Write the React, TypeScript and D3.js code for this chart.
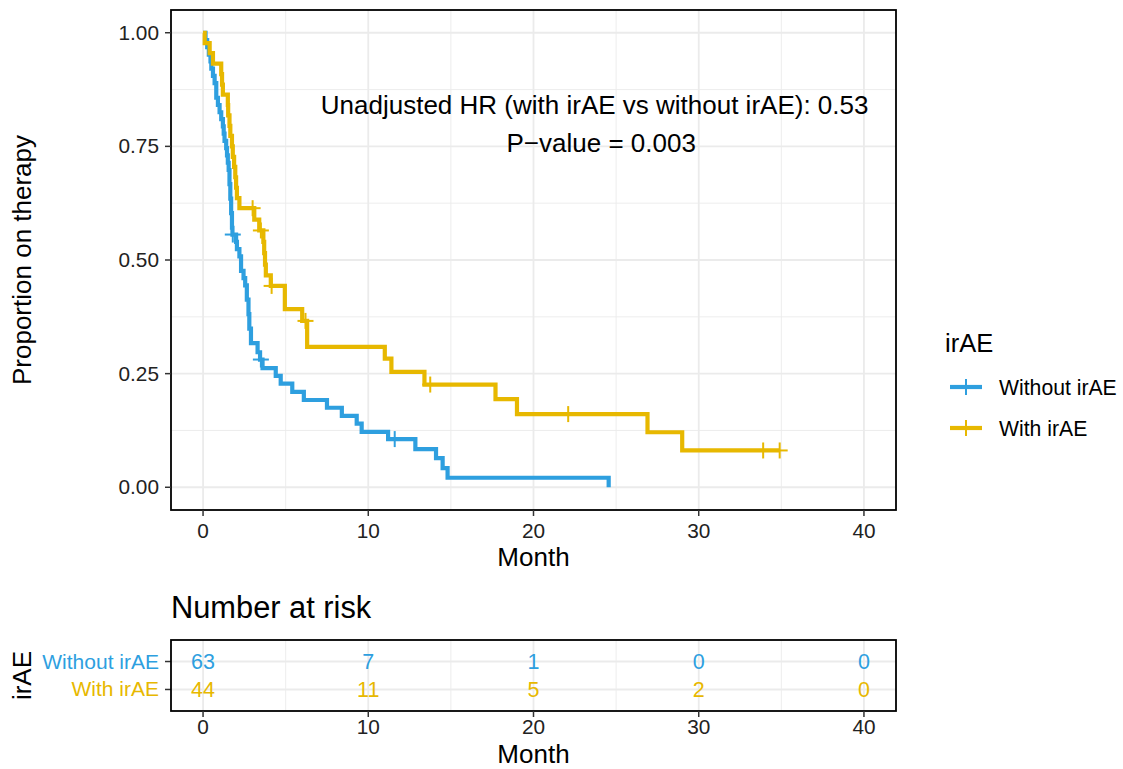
import * as d3 from "d3";
import React, { useEffect, useRef } from "react";

// KM step data (month, proportion after the step)
const withoutTimes = [0.15, 0.25, 0.35, 0.45, 0.5, 0.6, 0.7, 0.8, 0.9, 1.0, 1.1, 1.2, 1.25, 1.3, 1.4, 1.45, 1.5, 1.55, 1.6, 1.65, 1.7, 1.75, 1.78, 2.0, 2.05, 2.2, 2.3, 2.45, 2.55, 2.65, 2.75, 2.8, 2.9, 3.3, 3.45, 3.6, 4.4, 4.7, 5.4, 6.1, 7.5, 8.4, 9.3, 9.6, 11.2, 12.85, 14.1, 14.5, 14.8, 24.55];
const withoutSurv = [0.984, 0.968, 0.952, 0.937, 0.921, 0.905, 0.889, 0.857, 0.841, 0.825, 0.81, 0.794, 0.778, 0.762, 0.746, 0.73, 0.714, 0.698, 0.667, 0.635, 0.603, 0.571, 0.556, 0.54, 0.524, 0.508, 0.476, 0.46, 0.444, 0.413, 0.381, 0.349, 0.317, 0.297, 0.281, 0.262, 0.245, 0.228, 0.21, 0.192, 0.175, 0.157, 0.14, 0.122, 0.106, 0.084, 0.064, 0.042, 0.021, 0];
const withoutCensorTimes = [1.8, 3.5, 11.6];
const withoutCensorSurv = [0.556, 0.281, 0.106];

const withTimes = [0.1, 0.4, 0.6, 1.1, 1.15, 1.2, 1.5, 1.52, 1.6, 1.65, 1.75, 1.8, 1.88, 1.95, 2.0, 2.05, 2.2, 3.1, 3.4, 3.65, 3.7, 3.75, 3.8, 4.1, 4.95, 6.0, 6.3, 11.0, 11.4, 13.4, 17.7, 19.0, 26.9, 29.0, 34.9];
const withSurv = [0.977, 0.955, 0.932, 0.909, 0.886, 0.864, 0.841, 0.818, 0.795, 0.773, 0.75, 0.727, 0.705, 0.682, 0.659, 0.636, 0.614, 0.589, 0.565, 0.54, 0.515, 0.49, 0.466, 0.443, 0.392, 0.366, 0.309, 0.283, 0.254, 0.226, 0.194, 0.161, 0.121, 0.081, 0.081];
const withCensorTimes = [3.0, 3.5, 4.15, 6.2, 13.75, 22.1, 33.9, 34.9];
const withCensorSurv = [0.614, 0.565, 0.443, 0.366, 0.226, 0.161, 0.081, 0.081];

const groups = ["Without irAE", "With irAE"];
const colors = ["#2E9FDF", "#E7B800"];
const riskTimes = [0, 10, 20, 30, 40];
const riskWithout = [63, 7, 1, 0, 0];
const riskWith = [44, 11, 5, 2, 0];
const xTicks = [0, 10, 20, 30, 40];
const yTicks = [0, 0.25, 0.5, 0.75, 1];
const yTickLabels = ["0.00", "0.25", "0.50", "0.75", "1.00"];

const FONT = "'Liberation Sans', Arial, Helvetica, sans-serif";

function App() {
  const ref = useRef<SVGSVGElement>(null);

  useEffect(() => {
    const svg = d3.select(ref.current);
    svg.selectAll("*").remove();
    svg.style("font-family", FONT);

    const left = 171, right = 896, top = 10, bottom = 510;
    const x = d3.scaleLinear().domain([-1.94, 41.94]).range([left, right]);
    const y = d3.scaleLinear().domain([-0.05, 1.05]).range([bottom, top]);

    const g = svg.append("g");

    // grid
    const minorX = [5, 15, 25, 35];
    const minorY = [0.125, 0.375, 0.625, 0.875];
    minorX.forEach((t) =>
      g.append("line").attr("x1", x(t)).attr("x2", x(t)).attr("y1", top).attr("y2", bottom)
        .attr("stroke", "#EBEBEB").attr("stroke-width", 0.9));
    minorY.forEach((t) =>
      g.append("line").attr("x1", left).attr("x2", right).attr("y1", y(t)).attr("y2", y(t))
        .attr("stroke", "#EBEBEB").attr("stroke-width", 0.9));
    xTicks.forEach((t) =>
      g.append("line").attr("x1", x(t)).attr("x2", x(t)).attr("y1", top).attr("y2", bottom)
        .attr("stroke", "#EBEBEB").attr("stroke-width", 1.8));
    yTicks.forEach((t) =>
      g.append("line").attr("x1", left).attr("x2", right).attr("y1", y(t)).attr("y2", y(t))
        .attr("stroke", "#EBEBEB").attr("stroke-width", 1.8));

    const line = d3.line<[number, number]>()
      .x((d) => x(d[0]))
      .y((d) => y(d[1]))
      .curve(d3.curveStepAfter);

    const series = [
      { times: withoutTimes, surv: withoutSurv, ct: withoutCensorTimes, cs: withoutCensorSurv, color: colors[0] },
      { times: withTimes, surv: withSurv, ct: withCensorTimes, cs: withCensorSurv, color: colors[1] },
    ];

    series.forEach((s) => {
      const pts: [number, number][] = [[0, 1]];
      s.times.forEach((t, i) => pts.push([t, s.surv[i]]));
      g.append("path").datum(pts).attr("d", line)
        .attr("fill", "none").attr("stroke", s.color).attr("stroke-width", 4.2);
      s.ct.forEach((t, i) => {
        const cx = x(t), cy = y(s.cs[i]);
        g.append("line").attr("x1", cx - 8).attr("x2", cx + 8).attr("y1", cy).attr("y2", cy)
          .attr("stroke", s.color).attr("stroke-width", 2);
        g.append("line").attr("x1", cx).attr("x2", cx).attr("y1", cy - 8).attr("y2", cy + 8)
          .attr("stroke", s.color).attr("stroke-width", 2);
      });
    });

    // panel border
    g.append("rect").attr("x", left).attr("y", top).attr("width", right - left).attr("height", bottom - top)
      .attr("fill", "none").attr("stroke", "#000").attr("stroke-width", 1.8);

    // y axis
    yTicks.forEach((t, i) => {
      g.append("line").attr("x1", left - 6).attr("x2", left).attr("y1", y(t)).attr("y2", y(t))
        .attr("stroke", "#333").attr("stroke-width", 1.5);
      g.append("text").attr("x", left - 12).attr("y", y(t) + 7).attr("text-anchor", "end")
        .attr("font-size", 20.8).attr("fill", "#222").text(yTickLabels[i]);
    });
    // x axis
    xTicks.forEach((t) => {
      g.append("line").attr("x1", x(t)).attr("x2", x(t)).attr("y1", bottom).attr("y2", bottom + 6)
        .attr("stroke", "#333").attr("stroke-width", 1.5);
      g.append("text").attr("x", x(t)).attr("y", bottom + 28).attr("text-anchor", "middle")
        .attr("font-size", 20.8).attr("fill", "#222").text(t);
    });
    g.append("text").attr("x", (left + right) / 2).attr("y", 566).attr("text-anchor", "middle")
      .attr("font-size", 26).attr("fill", "#000").text("Month");
    g.append("text").attr("transform", `translate(31,${(top + bottom) / 2}) rotate(-90)`)
      .attr("text-anchor", "middle").attr("font-size", 26).attr("fill", "#000").text("Proportion on therapy");

    // annotation
    g.append("text").attr("x", x(23.7)).attr("y", 114).attr("text-anchor", "middle")
      .attr("font-size", 26).attr("fill", "#000").text("Unadjusted HR (with irAE vs without irAE): 0.53");
    g.append("text").attr("x", x(24.1)).attr("y", 152).attr("text-anchor", "middle")
      .attr("font-size", 26).attr("fill", "#000").text("P\u2212value = 0.003");

    // legend
    g.append("text").attr("x", 945).attr("y", 352).attr("font-size", 25.5).attr("fill", "#000").text("irAE");
    groups.forEach((name, i) => {
      const ly = 387 + i * 41;
      g.append("line").attr("x1", 950).attr("x2", 982).attr("y1", ly).attr("y2", ly)
        .attr("stroke", colors[i]).attr("stroke-width", 4.2);
      g.append("line").attr("x1", 966).attr("x2", 966).attr("y1", ly - 8).attr("y2", ly + 8)
        .attr("stroke", colors[i]).attr("stroke-width", 2);
      g.append("text").attr("x", 999).attr("y", ly + 7.5).attr("font-size", 21.2).attr("fill", "#000").text(name);
    });

    // risk table
    const tTop = 640, tBottom = 711;
    const ty = d3.scalePoint<string>().domain(groups).range([tTop, tBottom]).padding(0.77);
    g.append("text").attr("x", left).attr("y", 618).attr("font-size", 30.8).attr("fill", "#000").text("Number at risk");
    minorX.forEach((t) =>
      g.append("line").attr("x1", x(t)).attr("x2", x(t)).attr("y1", tTop).attr("y2", tBottom)
        .attr("stroke", "#EBEBEB").attr("stroke-width", 0.9));
    xTicks.forEach((t) =>
      g.append("line").attr("x1", x(t)).attr("x2", x(t)).attr("y1", tTop).attr("y2", tBottom)
        .attr("stroke", "#EBEBEB").attr("stroke-width", 1.8));
    groups.forEach((name) =>
      g.append("line").attr("x1", left).attr("x2", right).attr("y1", ty(name)!).attr("y2", ty(name)!)
        .attr("stroke", "#EBEBEB").attr("stroke-width", 1.8));
    const riskRows = [riskWithout, riskWith];
    groups.forEach((name, gi) => {
      riskTimes.forEach((t, i) => {
        g.append("text").attr("x", x(t)).attr("y", ty(name)! + 7.5).attr("text-anchor", "middle")
          .attr("font-size", 21.5).attr("fill", colors[gi]).text(riskRows[gi][i]);
      });
      g.append("line").attr("x1", left - 6).attr("x2", left).attr("y1", ty(name)!).attr("y2", ty(name)!)
        .attr("stroke", "#333").attr("stroke-width", 1.5);
      g.append("text").attr("x", left - 12).attr("y", ty(name)! + 7).attr("text-anchor", "end")
        .attr("font-size", 21).attr("fill", colors[gi]).text(name);
    });
    g.append("rect").attr("x", left).attr("y", tTop).attr("width", right - left).attr("height", tBottom - tTop)
      .attr("fill", "none").attr("stroke", "#000").attr("stroke-width", 1.8);
    xTicks.forEach((t) => {
      g.append("line").attr("x1", x(t)).attr("x2", x(t)).attr("y1", tBottom).attr("y2", tBottom + 6)
        .attr("stroke", "#333").attr("stroke-width", 1.5);
      g.append("text").attr("x", x(t)).attr("y", tBottom + 23).attr("text-anchor", "middle")
        .attr("font-size", 20.8).attr("fill", "#222").text(t);
    });
    g.append("text").attr("x", (left + right) / 2).attr("y", 763).attr("text-anchor", "middle")
      .attr("font-size", 26).attr("fill", "#000").text("Month");
    g.append("text").attr("transform", `translate(31,${(tTop + tBottom) / 2}) rotate(-90)`)
      .attr("text-anchor", "middle").attr("font-size", 26).attr("fill", "#000").text("irAE");
  }, []);

  return (
    <div className="chart">
      <svg ref={ref} width={1123} height={769}
        style={{ position: "absolute", left: 0, top: 0, background: "#fff" }}></svg>
    </div>
  );
}

export default App;
